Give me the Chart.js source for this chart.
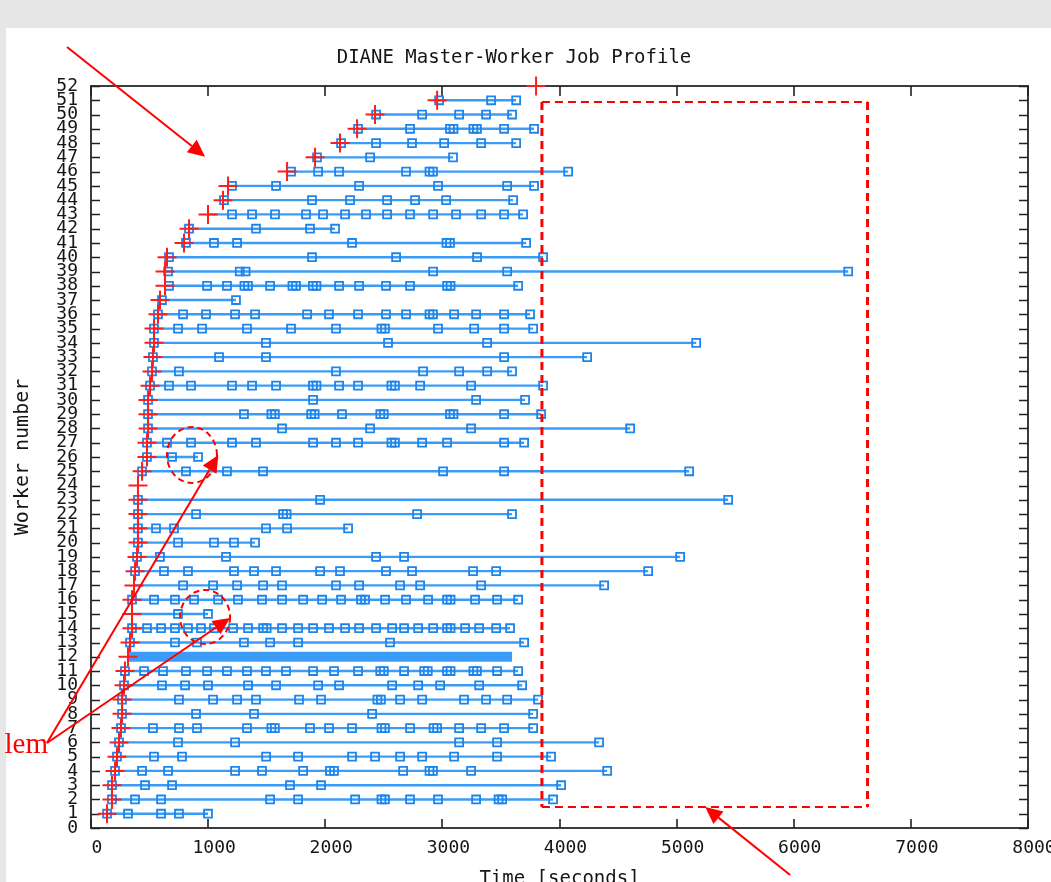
<!DOCTYPE html>
<html>
<head>
<meta charset="utf-8">
<title>DIANE Master-Worker Job Profile</title>
<script src="https://cdn.jsdelivr.net/npm/chart.js@4.4.1/dist/chart.umd.min.js"></script>
<style>
  html, body { margin: 0; padding: 0; overflow: hidden; background: #e6e6e6; }
  #wrap { position: absolute; left: 0; top: 0; width: 1051px; height: 882px; }
</style>
</head>
<body>
<div id="wrap"><canvas id="profile" width="1051" height="882"></canvas></div>
<script>
// ---- Worker start times [s], worker 1 .. 52 (red crosses) ----
const workerStarts = [
  137, 179, 179, 205, 222, 239, 256, 265, 265, 282,
  290, 316, 333, 350, 350, 350, 367, 376, 393, 401,
  401, 401, 401, 401, 436, 478, 478, 487, 487, 487,
  504, 521, 529, 538, 538, 572, 589, 632, 632, 649,
  794, 837, 999, 1127, 1170, 1674, 1913, 2126, 2272, 2425,
  2955, 3800
];

// ---- Job completion times [s] per worker (blue squares) ----
const w01 = [137, 316, 598, 751, 999];
const w02 = [179, 376, 598, 1529, 1768, 2255, 2480, 2510, 2724, 2963, 3288, 3480, 3510, 3945];
const w03 = [179, 461, 692, 1699, 1964, 4014];
const w04 = [205, 436, 658, 1230, 1460, 1811, 2040, 2075, 2665, 2890, 2920, 3245, 4407];
const w05 = [222, 538, 777, 1495, 1768, 2229, 2425, 2639, 2827, 3100, 3467, 3928];
const w06 = [239, 743, 1230, 3143, 3467, 4338];
const w07 = [256, 529, 751, 905, 1332, 1540, 1570, 1870, 2032, 2229, 2480, 2510, 2724, 2925, 2955, 3143, 3331, 3527, 3775];
const w08 = [265, 897, 1392, 2400, 3775];
const w09 = [265, 751, 1042, 1247, 1409, 1776, 1964, 2445, 2475, 2639, 2827, 3185, 3373, 3553, 3817];
const w10 = [282, 606, 803, 999, 1341, 1580, 1939, 2118, 2571, 2793, 2981, 3314, 3681];
const w11 = [290, 453, 615, 811, 991, 1161, 1332, 1494, 1665, 1896, 2075, 2280, 2470, 2500, 2673, 2845, 2875, 3040, 3070, 3265, 3295, 3467, 3647];
const w12 = [3595];
const w13 = [333, 717, 905, 1306, 1529, 1768, 2553, 3698];
const w14 = [350, 478, 598, 717, 828, 939, 1050, 1213, 1341, 1470, 1500, 1631, 1768, 1896, 2032, 2169, 2289, 2434, 2571, 2673, 2793, 2921, 3040, 3070, 3194, 3314, 3459, 3578];
const w15 = [743, 999];
const w16 = [350, 538, 717, 880, 1085, 1255, 1460, 1631, 1811, 1973, 2135, 2305, 2340, 2511, 2690, 2878, 3040, 3070, 3279, 3467, 3647];
const w17 = [786, 1042, 1247, 1469, 1631, 2092, 2289, 2639, 2810, 3331, 4381];
const w18 = [376, 623, 828, 1221, 1392, 1580, 1956, 2126, 2519, 2741, 3262, 3459, 4757];
const w19 = [393, 589, 1153, 2434, 2673, 5030];
const w20 = [401, 743, 1050, 1221, 1401];
const w21 = [401, 555, 709, 1494, 1674, 2195];
const w22 = [401, 897, 1640, 1670, 2784, 3595];
const w23 = [401, 1956, 5440];
const w24 = [];
const w25 = [436, 811, 1161, 1469, 3006, 3527, 5107];
const w26 = [478, 692, 914];
const w27 = [478, 649, 854, 1204, 1409, 1896, 2092, 2280, 2565, 2595, 2827, 3040, 3527, 3698];
const w28 = [487, 1631, 2383, 3245, 4603];
const w29 = [487, 1306, 1540, 1570, 1880, 1910, 2143, 2470, 2500, 3065, 3095, 3527, 3843];
const w30 = [487, 1896, 3288, 3706];
const w31 = [504, 666, 854, 1204, 1375, 1580, 1895, 1925, 2118, 2280, 2565, 2595, 2810, 3245, 3860];
const w32 = [521, 751, 2092, 2835, 3143, 3382, 3595];
const w33 = [529, 1093, 1494, 3527, 4236];
const w34 = [538, 1494, 2536, 3382, 5167];
const w35 = [538, 743, 948, 1332, 1708, 2092, 2480, 2510, 2963, 3271, 3527, 3775];
const w36 = [572, 786, 982, 1230, 1401, 1845, 2032, 2280, 2519, 2690, 2890, 2920, 3100, 3288, 3527, 3749];
const w37 = [606, 1238];
const w38 = [666, 991, 1161, 1310, 1340, 1529, 1720, 1750, 1895, 1925, 2118, 2289, 2519, 2724, 3040, 3070, 3647];
const w39 = [658, 1270, 1320, 2921, 3553, 6465];
const w40 = [666, 1887, 2605, 3296, 3860];
const w41 = [811, 1050, 1247, 2229, 3035, 3065, 3715];
const w42 = [837, 1409, 1870, 2084];
const w43 = [1204, 1375, 1571, 1836, 1981, 2169, 2348, 2528, 2724, 2921, 3117, 3331, 3527, 3689];
const w44 = [1136, 1887, 2212, 2528, 2767, 3032, 3604];
const w45 = [1204, 1580, 2289, 2963, 3553, 3783];
const w46 = [1708, 1939, 2118, 2690, 2890, 2920, 4074];
const w47 = [1930, 2383, 3091];
const w48 = [2135, 2434, 2741, 3015, 3331, 3630];
const w49 = [2280, 2724, 3065, 3095, 3265, 3295, 3527, 3783];
const w50 = [2434, 2827, 3143, 3373, 3595];
const w51 = [2972, 3416, 3630];
const w52 = [];

const workerJobs = [
  w01, w02, w03, w04, w05, w06, w07, w08, w09, w10,
  w11, w12, w13, w14, w15, w16, w17, w18, w19, w20,
  w21, w22, w23, w24, w25, w26, w27, w28, w29, w30,
  w31, w32, w33, w34, w35, w36, w37, w38, w39, w40,
  w41, w42, w43, w44, w45, w46, w47, w48, w49, w50,
  w51, w52
];

// Worker 12 ran a continuous stream of very short jobs: drawn as a solid band
const denseWorkers = [12];

// ---- Tick labels ----
const timeTicks = [0, 1000, 2000, 3000, 4000, 5000, 6000, 7000, 8000];
const workerTicks = [0, 1, 2, 3, 4, 5, 6, 7, 8, 9, 10, 11, 12, 13, 14, 15, 16, 17, 18, 19,
  20, 21, 22, 23, 24, 25, 26, 27, 28, 29, 30, 31, 32, 33, 34, 35, 36, 37, 38, 39,
  40, 41, 42, 43, 44, 45, 46, 47, 48, 49, 50, 51, 52];

// ---- Hand-drawn annotations, in data units (time, worker) ----
const noteBox = { x0: 3850, x1: 6630, y0: 1.47, y1: 50.88 };
const noteRings = [
  { x: 862, y: 26.14, rx: 25, ry: 28 },
  { x: 974, y: 14.79, rx: 25, ry: 27 }
];
const noteArrows = [
  { from: [-205, 54.73], to: [974, 47.05] },
  { from: [5969, -3.29], to: [5244, 1.47] },
  { from: [-376, 5.96], to: [1087, 26.14] },
  { from: [-376, 5.96], to: [1187, 14.72] }
];
const noteText = { text: 'lem', x: -367, y: 5.26 };

// ---- Styling ----
const MONO = "'DejaVu Sans Mono', 'Liberation Mono', monospace";
const LINE_BLUE = '#3a9cf6';
const MARK_BLUE = '#1d84ec';
const RED = '#ff0000';

const workerDatasets = [];
workerJobs.forEach((jobs, i) => {
  const worker = i + 1;
  if (!jobs.length) return;
  const start = workerStarts[i];
  const pts = [{ x: start, y: worker }].concat(jobs.map(t => ({ x: t, y: worker })));
  const dense = denseWorkers.includes(worker);
  workerDatasets.push({
    label: 'worker ' + worker,
    data: pts,
    showLine: true,
    borderColor: LINE_BLUE,
    borderWidth: dense ? 10 : 2.4,
    borderCapStyle: 'butt',
    tension: 0,
    pointStyle: 'rect',
    pointRadius: dense ? 0 : (c => (c.dataIndex === 0 ? 0 : 5.6)),
    pointBorderColor: MARK_BLUE,
    pointBackgroundColor: 'rgba(0,0,0,0)',
    pointBorderWidth: 1.8,
    order: 1
  });
});

const startDataset = {
  label: 'worker start',
  data: workerStarts.map((s, i) => ({ x: s, y: i + 1 })),
  showLine: false,
  pointStyle: 'cross',
  pointRadius: 9.5,
  pointBorderWidth: 2,
  pointBorderColor: '#ff1c1c',
  borderColor: '#ff1c1c',
  clip: false,
  order: 0
};

// Page backdrop: grey frame with white sheet
const sheetPlugin = {
  id: 'sheet',
  beforeDraw(chart) {
    const { ctx, width, height } = chart;
    ctx.save();
    ctx.fillStyle = '#e6e6e6';
    ctx.fillRect(0, 0, width, height);
    ctx.fillStyle = '#ffffff';
    ctx.fillRect(6, 28, width - 6, height - 28);
    ctx.restore();
  }
};

// Plot border with inward tick marks on all four sides
const framePlugin = {
  id: 'frame',
  beforeDatasetsDraw(chart) {
    const { ctx, chartArea: { left, right, top, bottom }, scales: { x, y } } = chart;
    ctx.save();
    ctx.strokeStyle = '#3c3c3c';
    ctx.lineWidth = 2;
    ctx.strokeRect(left, top, right - left, bottom - top);
    ctx.strokeStyle = '#222';
    ctx.lineWidth = 1.6;
    ctx.beginPath();
    y.ticks.forEach(t => {
      const py = Math.round(y.getPixelForValue(t.value)) + 0.5;
      ctx.moveTo(left, py); ctx.lineTo(left + 9, py);
      ctx.moveTo(right, py); ctx.lineTo(right - 9, py);
    });
    x.ticks.forEach(t => {
      const px = Math.round(x.getPixelForValue(t.value));
      ctx.moveTo(px, bottom); ctx.lineTo(px, bottom - 9);
      ctx.moveTo(px, top); ctx.lineTo(px, top + 10);
    });
    ctx.stroke();
    ctx.restore();
  }
};

// Red markup: dashed box, dashed rings, arrows and the note text
const markupPlugin = {
  id: 'markup',
  afterDatasetsDraw(chart) {
    const { ctx, scales: { x, y } } = chart;
    const px = v => x.getPixelForValue(v);
    const py = v => y.getPixelForValue(v);
    ctx.save();
    ctx.strokeStyle = RED;
    ctx.fillStyle = RED;

    // dashed box
    const bx0 = px(noteBox.x0), bx1 = px(noteBox.x1);
    const by0 = py(noteBox.y0), by1 = py(noteBox.y1);
    ctx.setLineDash([8, 5]);
    ctx.lineWidth = 2;
    ctx.beginPath();
    ctx.moveTo(bx0, by1); ctx.lineTo(bx1, by1);
    ctx.moveTo(bx0, by0); ctx.lineTo(bx1, by0);
    ctx.stroke();
    ctx.lineWidth = 3;
    ctx.beginPath();
    ctx.moveTo(bx0, by1); ctx.lineTo(bx0, by0);
    ctx.moveTo(bx1, by1); ctx.lineTo(bx1, by0);
    ctx.stroke();

    // dashed rings
    ctx.setLineDash([6, 4]);
    ctx.lineWidth = 2;
    noteRings.forEach(r => {
      ctx.beginPath();
      ctx.ellipse(px(r.x), py(r.y), r.rx, r.ry, 0, 0, Math.PI * 2);
      ctx.stroke();
    });

    // arrows
    ctx.setLineDash([]);
    ctx.lineWidth = 2;
    noteArrows.forEach(a => {
      const x0 = px(a.from[0]), y0 = py(a.from[1]);
      const x1 = px(a.to[0]), y1 = py(a.to[1]);
      const ang = Math.atan2(y1 - y0, x1 - x0);
      const len = 17, half = 8;
      const bxp = x1 - len * Math.cos(ang), byp = y1 - len * Math.sin(ang);
      ctx.beginPath();
      ctx.moveTo(x0, y0); ctx.lineTo(bxp, byp);
      ctx.stroke();
      ctx.beginPath();
      ctx.moveTo(x1, y1);
      ctx.lineTo(bxp + half * Math.sin(ang), byp - half * Math.cos(ang));
      ctx.lineTo(bxp - half * Math.sin(ang), byp + half * Math.cos(ang));
      ctx.closePath();
      ctx.fill();
    });

    // note text
    ctx.font = "29px 'Liberation Serif', 'DejaVu Serif', serif";
    ctx.textAlign = 'right';
    ctx.textBaseline = 'alphabetic';
    ctx.fillText(noteText.text, px(noteText.x), py(noteText.y));
    ctx.restore();
  }
};

new Chart(document.getElementById('profile'), {
  type: 'scatter',
  data: { datasets: [startDataset].concat(workerDatasets) },
  options: {
    responsive: false,
    animation: false,
    events: [],
    layout: { padding: { left: 0, right: 23, top: 0, bottom: 0 } },
    plugins: {
      legend: { display: false },
      tooltip: { enabled: false },
      title: {
        display: true,
        text: 'DIANE Master-Worker Job Profile',
        color: '#151515',
        font: { family: MONO, size: 19, weight: 'normal', lineHeight: 1.2 },
        padding: { top: 47, bottom: 16.2 }
      }
    },
    scales: {
      x: {
        type: 'linear',
        min: 0,
        max: 8000,
        afterBuildTicks: s => { s.ticks = timeTicks.map(v => ({ value: v })); },
        afterFit: s => { s.height = 54; s.paddingLeft = 0; s.paddingRight = 0; },
        grid: { display: false, drawTicks: false },
        border: { display: false },
        ticks: {
          color: '#151515',
          font: { family: MONO, size: 18, lineHeight: 1.2 },
          padding: 10,
          labelOffset: 6,
          maxRotation: 0,
          autoSkip: false,
          callback: v => String(v)
        },
        title: {
          display: true,
          text: 'Time [seconds]',
          color: '#151515',
          font: { family: MONO, size: 19, lineHeight: 0.28 },
          padding: { top: 0, bottom: 0 }
        }
      },
      y: {
        type: 'linear',
        min: 0,
        max: 52,
        afterBuildTicks: s => { s.ticks = workerTicks.map(v => ({ value: v })); },
        afterFit: s => { s.width = 91; },
        grid: { display: false, drawTicks: false },
        border: { display: false },
        ticks: {
          color: '#151515',
          font: { family: MONO, size: 18, lineHeight: 1.2 },
          padding: 13,
          autoSkip: false,
          callback: v => String(v)
        },
        title: {
          display: true,
          text: 'Worker number',
          color: '#151515',
          font: { family: MONO, size: 20, lineHeight: 1.2 },
          padding: { top: 10.5, bottom: 0 }
        }
      }
    }
  },
  plugins: [sheetPlugin, framePlugin, markupPlugin]
});
</script>
</body>
</html>
